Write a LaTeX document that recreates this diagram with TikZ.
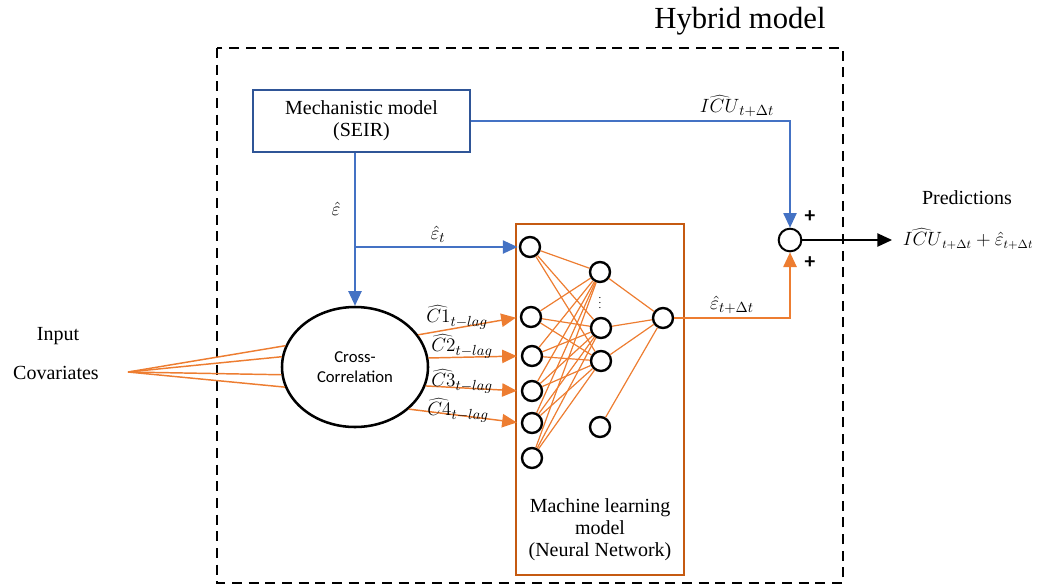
\documentclass[tikz,border=0pt]{standalone}
\usepackage{fontspec}
\setmainfont{Liberation Serif}
\newfontfamily\calibri{Carlito}
\usetikzlibrary{arrows.meta,shapes.geometric}
\definecolor{bline}{HTML}{4472C4}
\definecolor{bbox}{HTML}{2F5597}
\definecolor{oline}{HTML}{ED7D31}
\definecolor{obox}{HTML}{C55A11}
\tikzset{
  txt/.style={inner sep=0pt, align=center},
  neuron/.style={circle, draw=black, line width=1.8pt, minimum size=15pt, inner sep=0pt, fill=white},
  tipb/.style={-{Triangle[length=11pt,width=10pt]}},
  bluearrow/.style={draw=bline, line width=1pt, tipb},
  orangearrow/.style={draw=oline, line width=1.1pt, tipb},
  nnlink/.style={draw=oline, line width=0.9pt},
  lbl/.style={inner sep=0pt},
  plus/.style={inner sep=0pt, font=\calibri\bfseries\fontsize{16}{16}\selectfont},
}
\begin{document}
\begin{tikzpicture}[x=0.75pt,y=0.75pt,font=\fontsize{15}{16.5}\selectfont]
\useasboundingbox (0,0) rectangle (1042,-586);
% hybrid frame
\draw[line width=2.2pt, dash pattern=on 7.5pt off 5pt] (217,-48) rectangle (843,-583);
\node[txt, font=\fontsize{23}{25}\selectfont] (title) at (740,-21) {Hybrid model};
% mechanistic model
\node[draw=bbox, line width=1.9pt, minimum width=162.75pt, minimum height=46.5pt, txt] (mech) at (361.5,-121) {Mechanistic model\\(SEIR)};
% cross-correlation
\node[ellipse, draw=black, line width=1.9pt, minimum width=109.5pt, minimum height=90pt, inner sep=0pt, align=center, font=\calibri\fontsize{12.5}{14.5}\selectfont] (cc) at (355,-367) {Cross-\\Correlation};
% inputs
\node[txt] (inp) at (58,-336) {Input};
\node[txt] (cov) at (56,-373) {Covariates};
\coordinate (fan) at (128,-372);
\foreach \a in {163,172,186,196} \draw[nnlink, line width=1.1pt] (fan) -- (cc.\a);
% neural network box
\node[draw=obox, line width=1.9pt, minimum width=126pt, minimum height=263.25pt, inner sep=0pt] (nn) at (600,-399.5) {};
\node[txt] (nntext) at (600,-530) {Machine learning\\model\\(Neural Network)};
% neurons
\node[neuron] (i1) at (530,-247) {};
\node[neuron] (i2) at (531,-317) {};
\node[neuron] (i3) at (532,-356) {};
\node[neuron] (i4) at (532,-391) {};
\node[neuron] (i5) at (532,-423) {};
\node[neuron] (i6) at (532,-458) {};
\node[neuron] (h1) at (600,-272) {};
\node[neuron] (h2) at (601,-328) {};
\node[neuron] (h3) at (601,-361) {};
\node[neuron] (h4) at (600,-427) {};
\node[neuron] (o) at (663,-318) {};
\node[txt, font=\fontsize{8}{8}\selectfont] (dots) at (600,-299) {$\vdots$};
\foreach \i in {i1,i2,i3,i4,i5,i6}
  \foreach \h in {h1,h2,h3}
    \draw[nnlink] (\i) -- (\h);
\foreach \h in {h1,h2,h3,h4}
  \draw[nnlink] (\h) -- (o);
% sum node
\node[circle, draw=black, line width=1.5pt, minimum size=17pt, inner sep=0pt] (sum) at (790,-240) {};
\node[plus] (p1) at (810,-217) {+};
\node[plus] (p2) at (810,-263) {+};
% blue connectors
\draw[bluearrow] (mech.east) -| (sum.north);
\node[lbl] (licu) at (737,-106) {$\widehat{ICU}_{t+\Delta t}$};
\draw[bluearrow] (mech.south -| cc.north) -- (cc.north);
\node[lbl] (leps) at (336,-209) {$\hat{\varepsilon}$};
\coordinate (br) at (355,-247);
\draw[bluearrow, shorten >=1pt] (br) -- (i1.west);
\node[lbl] (lepst) at (438,-234) {$\hat{\varepsilon}_t$};
% orange connectors
\draw[orangearrow] (o.east) -| (sum.south);
\node[lbl] (lepsd) at (732,-305) {$\hat{\varepsilon}_{t+\Delta t}$};
\draw[orangearrow, shorten >=3pt] (cc.27) -- (i2.west);
\draw[orangearrow, shorten >=3pt] (cc.7) -- (i3.west);
\draw[orangearrow, shorten >=3pt] (cc.-15) -- (i4.west);
\draw[orangearrow, shorten >=3pt] (cc.-38) -- (i5.west);
\node[lbl] (lc1) at (457,-317) {$\widehat{C1}_{t-lag}$};
\node[lbl] (lc2) at (462,-346) {$\widehat{C2}_{t-lag}$};
\node[lbl] (lc3) at (462,-381) {$\widehat{C3}_{t-lag}$};
\node[lbl] (lc4) at (458,-410) {$\widehat{C4}_{t-lag}$};
% output
\coordinate (outend) at (892,-240);
\draw[draw=black, line width=1pt, tipb] (sum.east) -- (outend);
\node[txt] (pred) at (967,-198) {Predictions};
\node[lbl, font=\fontsize{13.5}{15}\selectfont] (predf) at (968,-239) {$\widehat{ICU}_{t+\Delta t}+\hat{\varepsilon}_{t+\Delta t}$};
\end{tikzpicture}
\end{document}
